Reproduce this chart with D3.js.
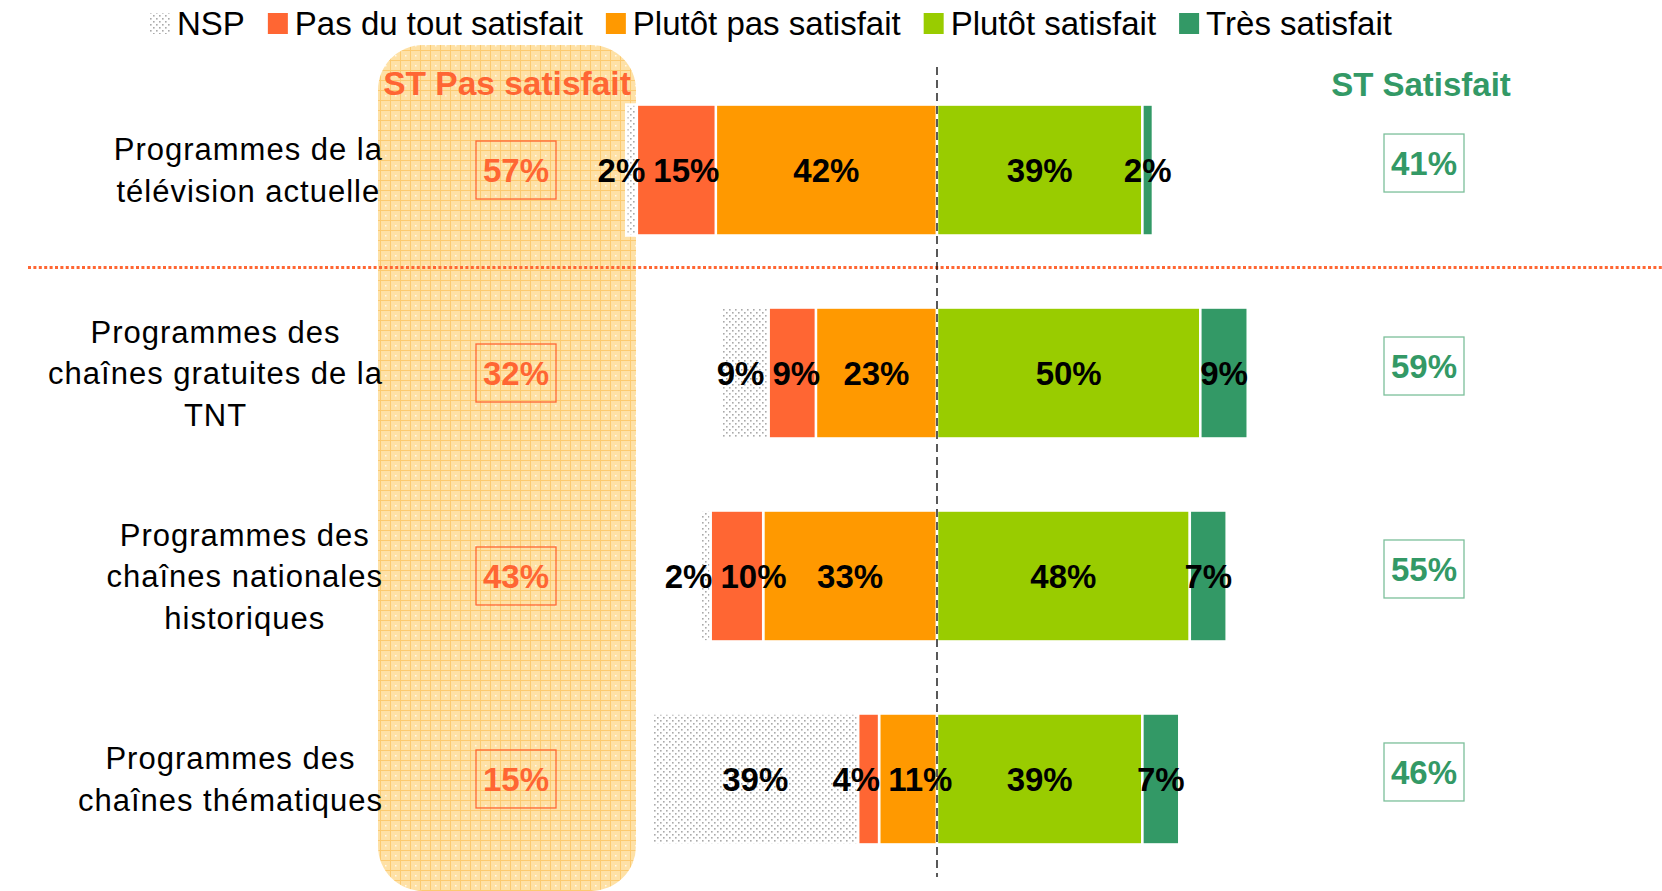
<!DOCTYPE html>
<html>
<head>
<meta charset="utf-8">
<script src="https://cdn.jsdelivr.net/npm/d3@7"></script>
<style>
body{margin:0;background:#fff;}
text{font-family:"Liberation Sans",Arial,sans-serif;}
</style>
</head>
<body>
<div id="chart"></div>
<script>
var width=1662, height=891;

var categories=["Programmes de la|télévision actuelle",
                "Programmes des|chaînes gratuites de la|TNT",
                "Programmes des|chaînes nationales|historiques",
                "Programmes des|chaînes thématiques"];
var series=["NSP","Pas du tout satisfait","Plutôt pas satisfait","Plutôt satisfait","Très satisfait"];
var nsp=[2,9,2,39];
var pasDuTout=[15,9,10,4];
var plutotPas=[42,23,33,11];
var plutotSat=[39,50,48,39];
var tresSat=[2,9,7,7];
var stPasSatisfait=[57,32,43,15];
var stSatisfait=[41,59,55,46];
var colors=["url(#nsp)","#ff6633","#ff9900","#99cc00","#339966"];

var svg=d3.select('#chart').append('svg')
        .attr('width', width)
        .attr('height', height);

// patterns
var defs=svg.append('defs');
var pn=defs.append('pattern').attr('id','nsp').attr('patternUnits','userSpaceOnUse')
        .attr('width',6).attr('height',6);
pn.append('rect').attr('width',6).attr('height',6).attr('fill','#fff');
pn.append('rect').attr('x',0).attr('y',0).attr('width',1.6).attr('height',1.6).attr('fill','#aaa');
pn.append('rect').attr('x',3).attr('y',3).attr('width',1.6).attr('height',1.6).attr('fill','#aaa');

var po=defs.append('pattern').attr('id','grid').attr('patternUnits','userSpaceOnUse')
        .attr('width',10).attr('height',10);
po.append('rect').attr('width',10).attr('height',10).attr('fill','#fee1a6');
po.append('rect').attr('width',10).attr('height',1).attr('fill','#fcca70');
po.append('rect').attr('width',1).attr('height',10).attr('fill','#fcca70');
po.append('rect').attr('x',5).attr('y',5).attr('width',1.5).attr('height',1.5).attr('fill','#fff').attr('opacity',0.8);

var x=d3.scaleLinear()
        .domain([-60, 60])
        .range([621, 1253]);

var y=d3.scaleBand()
        .domain(categories)
        .range([32.5, 916.5])
        .padding(0.355);

// orange highlight column
svg.append('rect')
    .attr('x',378).attr('y',45)
    .attr('width',258).attr('height',846)
    .attr('rx',45).attr('ry',45)
    .attr('fill','url(#grid)');

// separator between first row and the others
var sepY=y(categories[1])-y.step()*y.paddingInner()/2-4;
svg.append('line')
    .attr('x1',28).attr('x2',width)
    .attr('y1',sepY).attr('y2',sepY)
    .attr('stroke','#ff6633').attr('stroke-width',3)
    .attr('stroke-dasharray','3,2.4');

// build stacked segments
var segs=[];
for(i=0;i<categories.length;i++){
    var neg=[plutotPas[i], pasDuTout[i], nsp[i]];
    var negIdx=[2,1,0];
    var pos=0;
    for(j=0;j<3;j++){
        segs.push({row:i, cat:categories[i], s:negIdx[j], x0:-(pos+neg[j]), x1:-pos, v:neg[j]});
        pos+=neg[j];
    }
    var p=[plutotSat[i], tresSat[i]];
    pos=0;
    for(j=0;j<2;j++){
        segs.push({row:i, cat:categories[i], s:3+j, x0:pos, x1:pos+p[j], v:p[j]});
        pos+=p[j];
    }
}

svg.selectAll('rect.seg').data(segs).enter().append('rect')
    .attr('class','seg')
    .attr('x', d=>x(d.x0))
    .attr('y', d=>y(d.cat))
    .attr('width', d=>x(d.x1)-x(d.x0))
    .attr('height', y.bandwidth())
    .attr('fill', d=>colors[d.s])
    .attr('stroke','#fff')
    .attr('stroke-width',2.5);

var labels=svg.selectAll('text.val').data(segs).enter().append('text')
    .attr('class','val')
    .attr('y', d=>y(d.cat)+y.bandwidth()/2)
    .attr('dy','0.36em')
    .attr('text-anchor','middle')
    .style('font-size','33px')
    .style('font-weight','bold')
    .attr('fill','#000')
    .text(d=>d.v+'%');

// centre labels, then push apart the ones that collide
labels.each(function(d){
    d.cx=(x(d.x0)+x(d.x1))/2;
    d.w=this.getComputedTextLength();
});
for(i=0;i<categories.length;i++){
    var row=segs.filter(d=>d.row==i).sort((a,b)=>a.cx-b.cx);
    for(k=0;k<6;k++){
        for(j=0;j<row.length-1;j++){
            var a=row[j], b=row[j+1];
            var need=a.w/2+b.w/2+8-(b.cx-a.cx);
            if(need>0){ a.cx-=need/2; b.cx+=need/2; }
        }
    }
}
labels.attr('x', d=>d.cx);

// zero line
svg.append('line')
    .attr('x1',x(0)).attr('x2',x(0))
    .attr('y1',67).attr('y2',877)
    .attr('stroke','#000').attr('stroke-width',1.3)
    .attr('stroke-dasharray','8,5');

// category labels
var lh=41.5;
categories.forEach(function(c){
    var lines=c.split('|');
    var g=svg.append('g');
    var cy=y(c)+y.bandwidth()/2;
    var ts=lines.map(function(l,k){
        return g.append('text')
            .attr('y', cy+(k-(lines.length-1)/2)*lh)
            .attr('dy','0.36em')
            .attr('text-anchor','middle')
            .style('font-size','31px')
            .style('letter-spacing','1px')
            .attr('fill','#000')
            .text(l);
    });
    var mw=d3.max(ts, t=>t.node().getComputedTextLength());
    ts.forEach(t=>t.attr('x', 383-mw/2));
});

// column headers
svg.append('text').attr('x',507).attr('y',95).attr('text-anchor','middle')
    .style('font-size','33.5px').style('font-weight','bold').attr('fill','#ff6633')
    .text('ST Pas satisfait');
svg.append('text').attr('x',1421).attr('y',96).attr('text-anchor','middle')
    .style('font-size','33px').style('font-weight','bold').attr('fill','#339966')
    .text('ST Satisfait');

// boxed totals
function boxes(vals, cx, dyBox, col, stroke){
    categories.forEach(function(c,i){
        var cy=y(c)+y.bandwidth()/2+dyBox;
        svg.append('rect')
            .attr('x',cx-40).attr('y',cy-29)
            .attr('width',80).attr('height',58)
            .attr('fill','none').attr('stroke',stroke).attr('stroke-width',1.3);
        svg.append('text')
            .attr('x',cx).attr('y',cy).attr('dy','0.36em')
            .attr('text-anchor','middle')
            .style('font-size','33px').style('font-weight','bold')
            .attr('fill',col)
            .text(vals[i]+'%');
    });
}
boxes(stPasSatisfait, 516, 0, '#ff6633', '#ff6633');
boxes(stSatisfait, 1424, -7, '#339966', '#7cbf9a');

// legend
var lx=150;
series.forEach(function(s,i){
    svg.append('rect')
        .attr('x',lx).attr('y',13)
        .attr('width',20).attr('height',21)
        .attr('fill',colors[i]);
    var t=svg.append('text')
        .attr('x',lx+27).attr('y',35)
        .style('font-size','33px')
        .attr('fill','#000')
        .text(s);
    lx+=27+t.node().getComputedTextLength()+23;
});
</script>
</body>
</html>
